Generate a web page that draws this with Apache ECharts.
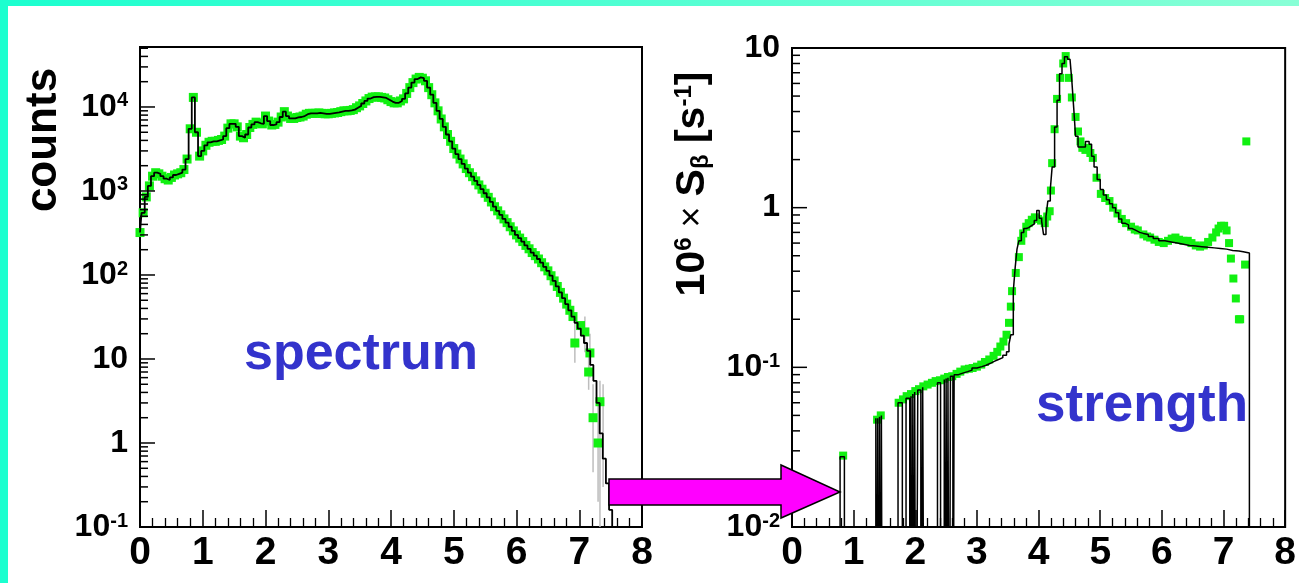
<!DOCTYPE html>
<html><head><meta charset="utf-8">
<script src="https://cdn.jsdelivr.net/npm/echarts@6/dist/echarts.min.js"></script>
<style>html,body{margin:0;padding:0;background:#fff}#c{width:1299px;height:583px}</style>
</head><body><div id="c"></div><script>
// ---------- DATA ----------
const xTicks = [0, 1, 2, 3, 4, 5, 6, 7, 8];
const spectrumE = [0.00,0.05,0.10,0.15,0.20,0.25,0.30,0.35,0.40,0.45,0.50,0.55,0.60,0.65,0.70,0.75,0.80,0.85,0.90,0.95,
  1.00,1.05,1.10,1.15,1.20,1.25,1.30,1.35,1.40,1.45,1.50,1.55,1.60,1.65,1.70,1.75,1.80,1.85,1.90,1.95,
  2.00,2.05,2.10,2.15,2.20,2.25,2.30,2.35,2.40,2.45,2.50,2.55,2.60,2.65,2.70,2.75,2.80,2.85,2.90,2.95,
  3.00,3.05,3.10,3.15,3.20,3.25,3.30,3.35,3.40,3.45,3.50,3.55,3.60,3.65,3.70,3.75,3.80,3.85,3.90,3.95,
  4.00,4.05,4.10,4.15,4.20,4.25,4.30,4.35,4.40,4.45,4.50,4.55,4.60,4.65,4.70,4.75,4.80,4.85,4.90,4.95,
  5.00,5.05,5.10,5.15,5.20,5.25,5.30,5.35,5.40,5.45,5.50,5.55,5.60,5.65,5.70,5.75,5.80,5.85,5.90,5.95,
  6.00,6.05,6.10,6.15,6.20,6.25,6.30,6.35,6.40,6.45,6.50,6.55,6.60,6.65,6.70,6.75,6.80,6.85,6.90,6.95,
  7.00,7.05,7.10,7.15,7.20,7.25,7.30,7.35,7.40,7.45,7.50,7.55];
const spectrumCounts = [320,550,850,1150,1500,1650,1600,1500,1400,1350,1450,1550,1600,1650,1800,2400,5500,13000,5000,2600,
  3000,3500,3800,3900,3900,4000,4100,4500,5600,6300,6300,5800,4500,4300,4700,5700,6200,6600,6400,6300,
  7800,6800,6100,6200,6600,7600,8800,7800,7300,7300,7500,7600,7800,8200,8400,8400,8400,8500,8400,8300,
  8300,8400,8500,8600,8800,9000,9000,9100,9300,9800,10300,11000,11800,12600,13100,13200,13200,13000,12800,12200,
  11600,11200,11200,11800,12500,14500,17000,19500,21500,22500,22000,20500,17000,14000,11200,9000,7200,5800,4700,3900,
  3200,2750,2400,2100,1850,1650,1480,1320,1180,1050,940,840,740,650,580,520,465,420,375,335,
  300,275,250,225,205,185,170,155,140,125,112,98,85,73,62,53,45,38,32,27,
  23,19,15.5,12.5,8.5,5.5,3.0,1.3,0.65,0.33,0.16,0.01];
// measured points (green) that leave the curve in the tail: [E, counts]
const spectrumTailPoints = [[6.93,15.5],[7.02,25],[7.09,21],[7.15,7],[7.17,11.8],[7.22,2.0],[7.30,1.0],[7.33,3.1]];
// grey error bars in the tail: [E, low, high]
const spectrumErrors = [[6.93,9,27],[7.09,12,32],[7.15,4.3,11],[7.17,6,20],[7.22,0.45,5],[7.30,0.2,3],[7.33,0.01,5.5],[7.38,0.3,5]];

// strength histogram: [bin low edge, value] (1e-4 = empty bin)
const strengthHist = [[0.0,1e-4],[0.78,0.0275],[0.85,1e-4],
  [1.36,0.048],[1.38,1e-4],[1.39,0.048],[1.41,1e-4],[1.42,0.049],[1.44,1e-4],[1.45,0.05],[1.47,1e-4],
  [1.72,0.06],[1.79,1e-4],[1.85,0.064],[1.91,1e-4],
  [1.93,0.066],[1.95,1e-4],[1.96,0.068],[1.98,1e-4],[1.99,0.07],[2.01,1e-4],
  [2.04,0.072],[2.09,1e-4],[2.12,0.075],[2.15,1e-4],[2.36,0.08],[2.41,1e-4],
  [2.47,0.084],[2.49,1e-4],[2.50,0.085],[2.52,1e-4],[2.53,0.086],[2.55,1e-4],[2.57,0.088],[2.61,1e-4],
  [2.63,0.09],[2.70,0.092],[2.77,0.094],[2.85,0.096],[2.92,0.099],[3.00,0.101],[3.08,0.103],[3.15,0.106],
  [3.22,0.109],[3.28,0.112],[3.35,0.115],[3.42,0.119],[3.48,0.125],[3.52,0.14],[3.55,0.16],[3.59,0.30],
  [3.62,0.42],[3.65,0.55],[3.68,0.62],[3.72,0.70],[3.76,0.74],[3.80,0.75],[3.84,0.77],[3.88,0.79],[3.93,0.83],
  [3.97,0.96],[4.01,0.86],[4.05,0.82],[4.08,0.68],[4.12,0.88],[4.15,1.1],[4.19,1.3],[4.22,1.8],[4.26,3.2],
  [4.30,4.7],[4.34,6.9],[4.38,8.0],[4.42,8.8],[4.47,8.5],[4.51,8.3],[4.54,6.2],[4.57,4.2],[4.60,2.8],[4.64,2.4],
  [4.70,2.4],[4.76,2.6],[4.82,2.5],[4.86,2.1],[4.90,1.8],[4.95,1.5],[5.00,1.3],[5.05,1.2],[5.10,1.12],[5.15,1.06],
  [5.20,1.0],[5.25,0.93],[5.30,0.85],[5.35,0.80],[5.40,0.78],[5.46,0.74],[5.52,0.72],[5.58,0.70],[5.64,0.69],
  [5.70,0.68],[5.78,0.66],[5.86,0.64],[5.95,0.62],[6.05,0.61],[6.15,0.60],[6.25,0.59],[6.35,0.58],[6.45,0.575],
  [6.55,0.57],[6.65,0.565],[6.75,0.56],[6.85,0.555],[6.95,0.55],[7.05,0.54],[7.15,0.535],[7.25,0.53],[7.32,0.52],[7.42,1e-4]];
// strength measured points (green): [E, value]
const strengthPoints = [[0.83,0.028],[1.38,0.047],[1.44,0.05],[1.73,0.06],[1.80,0.063],[1.86,0.066],[1.93,0.068],
  [2.00,0.071],[2.06,0.073],[2.13,0.076],[2.20,0.078],[2.27,0.08],[2.33,0.082],[2.40,0.083],[2.47,0.085],[2.53,0.087],
  [2.60,0.088],[2.67,0.091],[2.73,0.094],[2.80,0.097],[2.87,0.098],[2.93,0.099],[3.00,0.101],[3.07,0.104],[3.13,0.108],
  [3.20,0.112],[3.27,0.118],[3.33,0.125],[3.38,0.135],[3.43,0.145],[3.48,0.16],[3.52,0.19],[3.55,0.24],[3.57,0.30],
  [3.63,0.39],[3.68,0.49],[3.72,0.62],[3.75,0.69],[3.80,0.76],[3.84,0.80],[3.89,0.84],[3.94,0.87],[3.99,0.85],
  [4.04,0.83],[4.10,0.80],[4.14,0.88],[4.18,0.95],[4.20,1.28],[4.22,1.9],[4.26,3.1],[4.30,4.8],[4.35,6.5],[4.40,8.0],
  [4.44,8.9],[4.49,6.5],[4.54,4.9],[4.60,3.7],[4.64,3.0],[4.68,2.6],[4.71,2.37],[4.76,2.3],[4.80,2.37],[4.84,2.2],
  [4.88,2.05],[4.94,1.54],[5.01,1.22],[5.08,1.15],[5.15,1.1],[5.21,1.0],[5.28,0.92],[5.35,0.85],[5.42,0.80],
  [5.50,0.76],[5.56,0.73],[5.61,0.72],[5.70,0.68],[5.76,0.66],[5.81,0.65],[5.88,0.63],[5.95,0.61],[6.03,0.60],
  [6.10,0.62],[6.16,0.64],[6.22,0.65],[6.28,0.63],[6.35,0.62],[6.42,0.62],[6.48,0.60],[6.55,0.58],[6.62,0.57],
  [6.68,0.58],[6.75,0.61],[6.82,0.65],[6.88,0.70],[6.92,0.74],[6.96,0.77],[7.01,0.77],[7.05,0.72],[7.09,0.60],
  [7.12,0.48],[7.16,0.36],[7.20,0.27],[7.25,0.20],[7.27,0.20],[7.35,0.44],[7.37,2.6]];
const leftDecades = [0.1, 1, 10, 100, 1000, 10000];
const rightDecades = [0.01, 0.1, 1, 10];

// ---------- BUILD ----------
const FONT = 'Liberation Sans, Arial, sans-serif';
const GREEN = '#11f011';
const leftMax = 51760, rightMax = 10;

function minorTicks(decades, max) {
  const out = [];
  decades.forEach(d => { for (let k = 2; k <= 9; k++) { const v = d * k; if (v < max * 0.999) out.push(v); } });
  return out;
}
function tickData(decades, max) {
  return decades.map(v => [0, v, 15]).concat(minorTicks(decades, max).map(v => [0, v, 8]));
}
function tickRender(params, api) {
  const p = api.coord([api.value(0), api.value(1)]);
  return { type: 'line', shape: { x1: p[0], y1: p[1], x2: p[0] + api.value(2), y2: p[1] },
    style: { stroke: '#000', lineWidth: 1.5 } };
}
function errRender(params, api) {
  const a = api.coord([api.value(0), api.value(1)]);
  const b = api.coord([api.value(0), api.value(2)]);
  return { type: 'line', shape: { x1: a[0], y1: a[1], x2: b[0], y2: b[1] },
    style: { stroke: '#bdbdbd', lineWidth: 1.5 } };
}
function supLabel(v) {
  const e = Math.round(Math.log10(v));
  if (e === 0) return '{b|1}';
  if (e === 1) return '{b|10}';
  return '{b|10}{s|' + e + '}';
}
const labelRich = {
  b: { fontSize: 32, fontWeight: 'bold', fontFamily: FONT, color: '#000' },
  s: { fontSize: 20, fontWeight: 'bold', fontFamily: FONT, color: '#000', verticalAlign: 'top' }
};

function xAxis(gi) {
  return {
    type: 'value', gridIndex: gi, min: 0, max: 8, interval: 1,
    axisLine: { show: true, onZero: false, lineStyle: { color: '#000', width: 2 } },
    axisTick: { show: true, inside: true, length: 17, lineStyle: { color: '#000', width: 1.5 } },
    minorTick: { show: true, splitNumber: 5, length: 9, lineStyle: { color: '#000', width: 1.3 } },
    splitLine: { show: false },
    axisLabel: { fontSize: 39, fontWeight: 'bold', fontFamily: FONT, color: '#000', margin: 7 }
  };
}
function yAxis(gi, min, max) {
  return {
    type: 'log', logBase: 10, gridIndex: gi, min: min, max: max,
    axisLine: { show: true, onZero: false, lineStyle: { color: '#000', width: 2 } },
    axisTick: { show: false }, splitLine: { show: false },
    axisLabel: { formatter: supLabel, rich: labelRich, margin: 12, showMaxLabel: gi === 1 }
  };
}

const spectrumLine = spectrumE.map((e, i) => [e, spectrumCounts[i]]);
const spectrumGreen = spectrumLine.filter(p => p[0] <= 6.9).concat(spectrumTailPoints);

const chart = echarts.init(document.getElementById('c'), null, { renderer: 'canvas' });
chart.setOption({
  animation: false,
  backgroundColor: '#fff',
  grid: [
    { left: 140, top: 47, width: 502, height: 480, show: true, borderColor: '#000', borderWidth: 2, containLabel: false },
    { left: 792, top: 48, width: 502, height: 479, show: true, borderColor: '#000', borderWidth: 2, containLabel: false }
  ],
  xAxis: [xAxis(0), xAxis(1)],
  yAxis: [yAxis(0, 0.1, leftMax), yAxis(1, 0.01, rightMax)],
  series: [
    { type: 'custom', name: 'errors', xAxisIndex: 0, yAxisIndex: 0, renderItem: errRender, data: spectrumErrors, z: 1, silent: true, clip: true },
    { type: 'scatter', name: 'spectrum data', xAxisIndex: 0, yAxisIndex: 0, data: spectrumGreen, symbol: 'rect', symbolSize: 9,
      itemStyle: { color: GREEN, opacity: 1 }, z: 2, silent: true },
    { type: 'line', name: 'spectrum fit', xAxisIndex: 0, yAxisIndex: 0, data: spectrumLine, step: 'middle', symbol: 'none',
      lineStyle: { color: '#000', width: 1.8 }, z: 3, silent: true, clip: true },
    { type: 'scatter', name: 'strength data', xAxisIndex: 1, yAxisIndex: 1, data: strengthPoints, symbol: 'rect', symbolSize: 8,
      itemStyle: { color: GREEN, opacity: 1 }, z: 2, silent: true },
    { type: 'line', name: 'strength', xAxisIndex: 1, yAxisIndex: 1, data: strengthHist, step: 'end', symbol: 'none',
      lineStyle: { color: '#000', width: 1.5 }, z: 3, silent: true, clip: true },
    { type: 'custom', name: 'lticks', xAxisIndex: 0, yAxisIndex: 0, renderItem: tickRender, data: tickData(leftDecades, leftMax), z: 4, silent: true },
    { type: 'custom', name: 'rticks', xAxisIndex: 1, yAxisIndex: 1, renderItem: tickRender, data: tickData(rightDecades, rightMax), z: 4, silent: true }
  ],
  graphic: [
    { type: 'rect', shape: { x: 0, y: 0, width: 1299, height: 6 }, z: 100,
      style: { fill: new echarts.graphic.LinearGradient(0, 0, 1, 0, [{ offset: 0, color: '#1bffcf' }, { offset: 1, color: '#88ffd6' }]) } },
    { type: 'rect', shape: { x: 0, y: 0, width: 8, height: 583 }, z: 100, style: { fill: '#1bffcf' } },
    { type: 'text', x: 44, y: 140, rotation: Math.PI / 2, z: 100,
      style: { text: 'counts', fontSize: 44, fontWeight: 'bold', fontFamily: FONT, fill: '#000', align: 'center', verticalAlign: 'middle' } },
    { type: 'text', x: 693, y: 184, rotation: Math.PI / 2, z: 100,
      style: { text: '{n|10}{sup|6}{x| × }{n|S}{sub|β}{n| [s}{sup|-1}{n|]}', align: 'center', verticalAlign: 'middle',
        rich: {
          n: { fontSize: 41, fontWeight: 'bold', fontFamily: FONT, fill: '#000' },
          x: { fontSize: 36, fontWeight: 'normal', fontFamily: FONT, fill: '#000' },
          sup: { fontSize: 24, fontWeight: 'bold', fontFamily: FONT, fill: '#000', verticalAlign: 'top' },
          sub: { fontSize: 24, fontWeight: 'bold', fontFamily: FONT, fill: '#000', verticalAlign: 'bottom' }
        } } },
    { type: 'text', x: 361, y: 355, z: 100,
      style: { text: 'spectrum', fontSize: 52, fontWeight: 'bold', fontFamily: FONT, fill: '#3333cc', align: 'center', verticalAlign: 'middle' } },
    { type: 'text', x: 1142, y: 406, z: 100,
      style: { text: 'strength', fontSize: 53, fontWeight: 'bold', fontFamily: FONT, fill: '#3333cc', align: 'center', verticalAlign: 'middle' } },
    { type: 'polygon', z: 100,
      shape: { points: [[609, 479], [781, 479], [781, 465], [840, 492], [781, 518], [781, 505], [609, 505]] },
      style: { fill: '#ff00ff', stroke: '#000', lineWidth: 1.5 } }
  ]
});
</script></body></html>
